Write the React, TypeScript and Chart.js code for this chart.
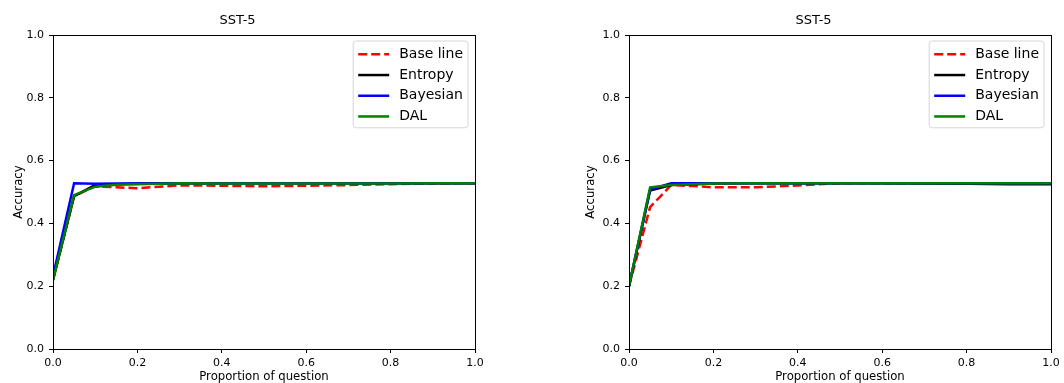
import React, { useEffect, useRef } from "react";
import { Chart, registerables } from "chart.js";

Chart.register(...registerables);

const proportions = [0, 0.05, 0.1, 0.15, 0.2, 0.3, 0.4, 0.5, 0.6, 0.7, 0.8, 0.9, 1.0];
const seriesNames = ["Base line", "Entropy", "Bayesian", "DAL"];
const xTickValues = [0, 0.2, 0.4, 0.6, 0.8, 1.0];
const yTickValues = [0, 0.2, 0.4, 0.6, 0.8, 1.0];
const chartTitle = "SST-5";
const xAxisLabel = "Proportion of question";
const yAxisLabel = "Accuracy";

// Left panel
const leftBaseline = [0.22, 0.487, 0.518, 0.515, 0.512, 0.521, 0.52, 0.518, 0.52, 0.522, 0.525, 0.527, 0.528];
const leftEntropy = [0.22, 0.487, 0.522, 0.525, 0.527, 0.528, 0.528, 0.528, 0.528, 0.528, 0.528, 0.528, 0.528];
const leftBayesian = [0.232, 0.528, 0.526, 0.527, 0.527, 0.528, 0.528, 0.528, 0.528, 0.528, 0.528, 0.528, 0.528];
const leftDAL = [0.22, 0.49, 0.517, 0.523, 0.525, 0.528, 0.527, 0.527, 0.527, 0.527, 0.527, 0.528, 0.528];

// Right panel
const rightBaseline = [0.2, 0.452, 0.522, 0.519, 0.515, 0.515, 0.521, 0.528, 0.528, 0.528, 0.528, 0.528, 0.528];
const rightEntropy = [0.2, 0.505, 0.522, 0.525, 0.527, 0.528, 0.528, 0.528, 0.528, 0.527, 0.526, 0.525, 0.525];
const rightBayesian = [0.2, 0.508, 0.528, 0.528, 0.528, 0.528, 0.528, 0.528, 0.528, 0.528, 0.528, 0.528, 0.528];
const rightDAL = [0.2, 0.515, 0.522, 0.525, 0.527, 0.528, 0.528, 0.528, 0.528, 0.528, 0.528, 0.528, 0.528];

const seriesColors = ["#ff0000", "#000000", "#0000ff", "#008000"];
const seriesDashed = [true, false, false, false];

const FONT = "'DejaVu Sans', sans-serif";

const framePlugin = {
  id: "frame",
  afterDatasetsDraw(chart: any) {
    const { ctx, chartArea } = chart;
    ctx.save();
    ctx.strokeStyle = "#000";
    ctx.lineWidth = 1;
    ctx.strokeRect(
      Math.round(chartArea.left) + 0.5,
      Math.round(chartArea.top) + 0.5,
      Math.round(chartArea.right - chartArea.left),
      Math.round(chartArea.bottom - chartArea.top)
    );
    ctx.restore();
  },
};

const legendPlugin = {
  id: "mplLegend",
  afterDraw(chart: any) {
    const { ctx, chartArea } = chart;
    const ds = chart.data.datasets;
    const fontSize = 14;
    ctx.save();
    ctx.font = `${fontSize}px ${FONT}`;
    let maxW = 0;
    ds.forEach((d: any) => {
      maxW = Math.max(maxW, ctx.measureText(d.label).width);
    });
    const pad = 5;
    const lineLen = 31;
    const gap = 10;
    const rowH = 20.7;
    const boxW = pad + lineLen + gap + maxW + pad;
    const boxH = rowH * ds.length + 4;
    const right = chartArea.right - 7;
    const top = chartArea.top + 6;
    const left = right - boxW;
    const r = 3;
    ctx.beginPath();
    ctx.moveTo(left + r, top);
    ctx.lineTo(right - r, top);
    ctx.quadraticCurveTo(right, top, right, top + r);
    ctx.lineTo(right, top + boxH - r);
    ctx.quadraticCurveTo(right, top + boxH, right - r, top + boxH);
    ctx.lineTo(left + r, top + boxH);
    ctx.quadraticCurveTo(left, top + boxH, left, top + boxH - r);
    ctx.lineTo(left, top + r);
    ctx.quadraticCurveTo(left, top, left + r, top);
    ctx.closePath();
    ctx.fillStyle = "rgba(255,255,255,0.8)";
    ctx.fill();
    ctx.strokeStyle = "#d6d6d6";
    ctx.lineWidth = 1;
    ctx.stroke();
    ds.forEach((d: any, i: number) => {
      const cy = top + 2 + rowH * i + rowH / 2 + 1;
      ctx.beginPath();
      ctx.setLineDash(d.borderDash || []);
      ctx.strokeStyle = d.borderColor;
      ctx.lineWidth = 2.5;
      ctx.moveTo(left + pad, cy);
      ctx.lineTo(left + pad + lineLen, cy);
      ctx.stroke();
      ctx.setLineDash([]);
      ctx.fillStyle = "#000";
      ctx.textBaseline = "middle";
      ctx.textAlign = "left";
      ctx.fillText(d.label, left + pad + lineLen + gap, cy);
    });
    ctx.restore();
  },
};

function makeDatasets(values: number[][]) {
  return values.map((vals, i) => ({
    label: seriesNames[i],
    data: proportions.map((x, j) => ({ x, y: vals[j] })),
    borderColor: seriesColors[i],
    backgroundColor: seriesColors[i],
    borderWidth: 2.5,
    borderDash: seriesDashed[i] ? [9, 4] : [],
    pointRadius: 0,
    fill: false,
    tension: 0,
    order: values.length - i,
  }));
}

type PanelProps = {
  values: number[][];
  width: number;
  rightPad: number;
  yTitlePad: number;
};

function Panel({ values, width, rightPad, yTitlePad }: PanelProps) {
  const ref = useRef<HTMLCanvasElement | null>(null);
  useEffect(() => {
    if (!ref.current) return;
    const chart = new Chart(ref.current, {
      type: "line",
      data: { datasets: makeDatasets(values) as any },
      plugins: [framePlugin, legendPlugin],
      options: {
        animation: false,
        responsive: false,
        devicePixelRatio: 1,
        layout: { padding: { left: 0, right: rightPad, top: 0, bottom: 0 } },
        plugins: {
          legend: { display: false },
          tooltip: { enabled: false },
          title: {
            display: true,
            text: chartTitle,
            color: "#000",
            font: { family: FONT, size: 13, weight: "normal", lineHeight: 1.2 },
            padding: { top: 13, bottom: 6.4 },
          },
        },
        scales: {
          x: {
            type: "linear",
            min: 0,
            max: 1,
            afterBuildTicks(scale: any) {
              scale.ticks = xTickValues.map((v) => ({ value: v }));
            },
            afterFit(scale: any) {
              scale.height = 34;
            },
            ticks: {
              color: "#000",
              font: { family: FONT, size: 11 },
              padding: 4,
              maxRotation: 0,
              autoSkip: false,
              callback: (v: any) => Number(v).toFixed(1),
            },
            grid: {
              display: true,
              drawOnChartArea: false,
              drawTicks: true,
              tickLength: 4,
              tickColor: "#000",
            },
            border: { display: false },
            title: {
              display: true,
              text: xAxisLabel,
              color: "#000",
              font: { family: FONT, size: 11.7, lineHeight: 1.0 },
              padding: { top: 0, bottom: 0 },
            },
          },
          y: {
            type: "linear",
            min: 0,
            max: 1,
            afterBuildTicks(scale: any) {
              scale.ticks = yTickValues.map((v) => ({ value: v }));
            },
            afterFit(scale: any) {
              scale.width = 53;
            },
            ticks: {
              color: "#000",
              font: { family: FONT, size: 11 },
              padding: 5,
              autoSkip: false,
              callback: (v: any) => Number(v).toFixed(1),
            },
            grid: {
              display: true,
              drawOnChartArea: false,
              drawTicks: true,
              tickLength: 4,
              tickColor: "#000",
            },
            border: { display: false },
            title: {
              display: true,
              text: yAxisLabel,
              color: "#000",
              font: { family: FONT, size: 11.7, lineHeight: 1.2 },
              padding: { top: yTitlePad, bottom: 0 },
            },
          },
        },
      } as any,
    });
    return () => chart.destroy();
  }, []);
  return <canvas ref={ref} width={width} height={383} style={{ width, height: 383, display: "block" }} />;
}

export default function App() {
  return (
    <div style={{ position: "absolute", left: 0, top: 0, width: 1064, height: 383, background: "#fff" }}>
      <div style={{ position: "absolute", left: 0, top: 0 }}>
        <Panel values={[leftBaseline, leftEntropy, leftBayesian, leftDAL]} width={532} rightPad={57} yTitlePad={12} />
      </div>
      <div style={{ position: "absolute", left: 576, top: 0 }}>
        <Panel values={[rightBaseline, rightEntropy, rightBayesian, rightDAL]} width={488} rightPad={13} yTitlePad={8} />
      </div>
    </div>
  );
}
